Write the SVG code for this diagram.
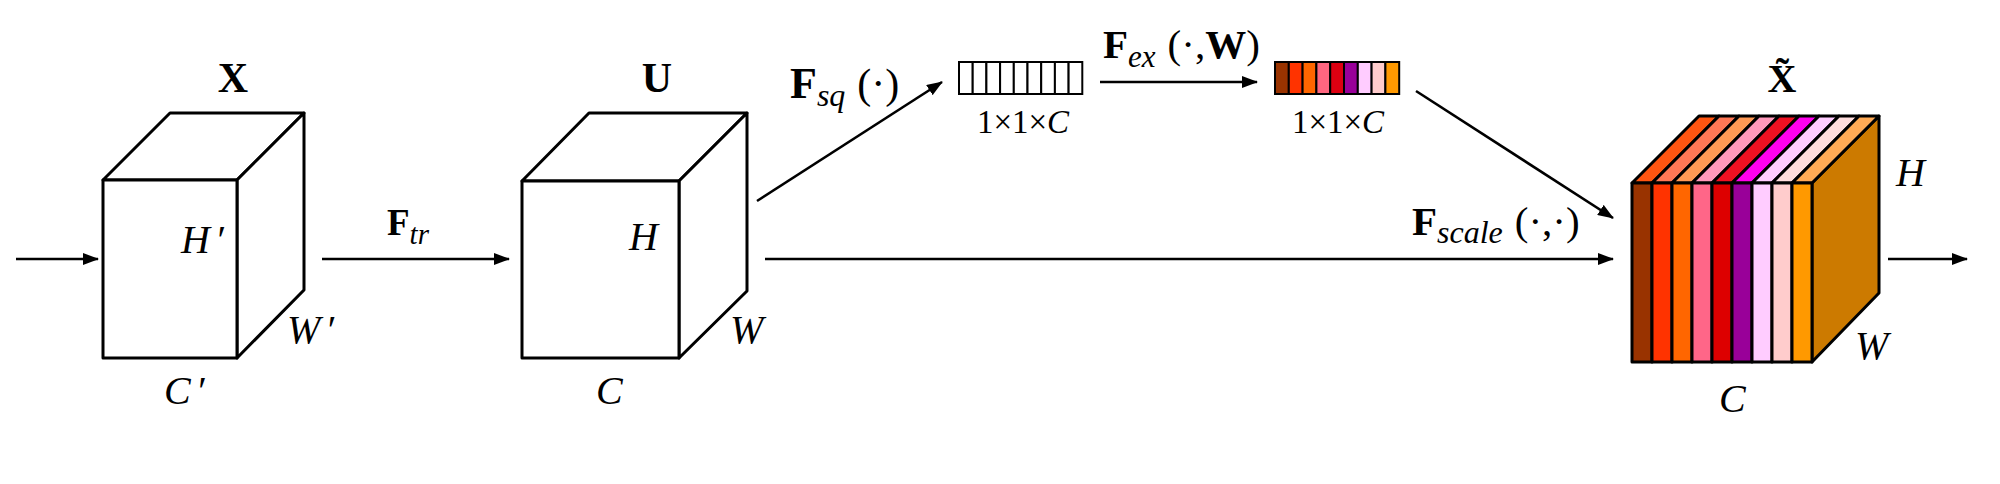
<svg xmlns="http://www.w3.org/2000/svg" width="2000" height="484" viewBox="0 0 2000 484">
<style>
.edge{fill:#fff;stroke:#000;stroke-width:3;stroke-linejoin:round}
.st{stroke:#000;stroke-width:3;stroke-linejoin:round}
.conn{fill:none;stroke:#000;stroke-width:2.6}
.t{font-family:"Liberation Serif","Times New Roman",serif;fill:#000}
.b{font-weight:bold}
.i{font-style:italic}
.cell{fill:#fff;stroke:#000;stroke-width:2}
.ccell{stroke:#000;stroke-width:2}
</style>
<defs>
<marker id="ah" markerUnits="userSpaceOnUse" markerWidth="16" markerHeight="12" refX="15" refY="6" orient="auto">
<path d="M0,0 L16,6 L0,12 z" fill="#000"/>
</marker>
</defs>
<rect width="2000" height="484" fill="#fff"/>

<g id="cube-x">
<polygon class="edge" points="103,180 170,113 304,113 237,180"/>
<polygon class="edge" points="237,180 304,113 304,290 237,358"/>
<rect class="edge" x="103" y="180" width="134" height="178"/>
<text class="t b" x="233" y="92" font-size="42" text-anchor="middle">X</text>
<text class="t i" x="181" y="253" font-size="40">H<tspan dx="5">′</tspan></text>
<text class="t i" x="287" y="343" font-size="40">W<tspan dx="5">′</tspan></text>
<text class="t i" x="164" y="404" font-size="40">C<tspan dx="5">′</tspan></text>
</g>

<g id="cube-u">
<polygon class="edge" points="522,181 589,113 747,113 679,181"/>
<polygon class="edge" points="679,181 747,113 747,291 679,358"/>
<rect class="edge" x="522" y="181" width="157" height="177"/>
<text class="t b" x="657" y="92" font-size="42" text-anchor="middle">U</text>
<text class="t i" x="629" y="250" font-size="40">H</text>
<text class="t i" x="730" y="343" font-size="40">W</text>
<text class="t i" x="596" y="404" font-size="40">C</text>
</g>

<g id="squeeze-vector">
<rect class="cell" x="959" y="62" width="13.7" height="32"/>
<rect class="cell" x="972.7" y="62" width="13.7" height="32"/>
<rect class="cell" x="986.4" y="62" width="13.7" height="32"/>
<rect class="cell" x="1000.1" y="62" width="13.7" height="32"/>
<rect class="cell" x="1013.8" y="62" width="13.7" height="32"/>
<rect class="cell" x="1027.5" y="62" width="13.7" height="32"/>
<rect class="cell" x="1041.2" y="62" width="13.7" height="32"/>
<rect class="cell" x="1054.9" y="62" width="13.7" height="32"/>
<rect class="cell" x="1068.6" y="62" width="13.7" height="32"/>
<text class="t" x="1023" y="133" font-size="33" text-anchor="middle">1×1×<tspan class="i">C</tspan></text>
</g>

<g id="excite-vector">
<rect class="ccell" x="1275" y="62" width="13.8" height="32" fill="#993300"/>
<rect class="ccell" x="1288.8" y="62" width="13.8" height="32" fill="#FF3300"/>
<rect class="ccell" x="1302.6" y="62" width="13.8" height="32" fill="#FF6600"/>
<rect class="ccell" x="1316.4" y="62" width="13.8" height="32" fill="#FF6680"/>
<rect class="ccell" x="1330.2" y="62" width="13.8" height="32" fill="#DD0011"/>
<rect class="ccell" x="1344" y="62" width="13.8" height="32" fill="#990099"/>
<rect class="ccell" x="1357.8" y="62" width="13.8" height="32" fill="#FFCCFF"/>
<rect class="ccell" x="1371.6" y="62" width="13.8" height="32" fill="#FFCCCC"/>
<rect class="ccell" x="1385.4" y="62" width="13.8" height="32" fill="#FF9900"/>
<text class="t" x="1338" y="133" font-size="33" text-anchor="middle">1×1×<tspan class="i">C</tspan></text>
</g>

<g id="cube-xtilde">
<polygon class="st" fill="#CC7A00" points="1812,183 1879,116 1879,293 1812,362"/>
<polygon class="st" fill="#FF5511" points="1632,183 1652,183 1719,116 1699,116"/>
<polygon class="st" fill="#FF7755" points="1652,183 1672,183 1739,116 1719,116"/>
<polygon class="st" fill="#FF9955" points="1672,183 1692,183 1759,116 1739,116"/>
<polygon class="st" fill="#FF99BB" points="1692,183 1712,183 1779,116 1759,116"/>
<polygon class="st" fill="#EE1122" points="1712,183 1732,183 1799,116 1779,116"/>
<polygon class="st" fill="#FF00EE" points="1732,183 1752,183 1819,116 1799,116"/>
<polygon class="st" fill="#FFCCFF" points="1752,183 1772,183 1839,116 1819,116"/>
<polygon class="st" fill="#FFDDDD" points="1772,183 1792,183 1859,116 1839,116"/>
<polygon class="st" fill="#FFAA55" points="1792,183 1812,183 1879,116 1859,116"/>
<rect class="st" x="1632" y="183" width="20" height="179" fill="#993300"/>
<rect class="st" x="1652" y="183" width="20" height="179" fill="#FF3300"/>
<rect class="st" x="1672" y="183" width="20" height="179" fill="#FF6600"/>
<rect class="st" x="1692" y="183" width="20" height="179" fill="#FF6688"/>
<rect class="st" x="1712" y="183" width="20" height="179" fill="#DD0000"/>
<rect class="st" x="1732" y="183" width="20" height="179" fill="#990099"/>
<rect class="st" x="1752" y="183" width="20" height="179" fill="#FFCCFF"/>
<rect class="st" x="1772" y="183" width="20" height="179" fill="#FFCCCC"/>
<rect class="st" x="1792" y="183" width="20" height="179" fill="#FF9900"/>
<text class="t b" x="1782" y="92" font-size="40" text-anchor="middle">X̃</text>
<text class="t i" x="1896" y="186" font-size="40">H</text>
<text class="t i" x="1855" y="359" font-size="40">W</text>
<text class="t i" x="1719" y="412" font-size="40">C</text>
</g>

<g id="connectors">
<line class="conn" x1="16" y1="259" x2="98" y2="259" marker-end="url(#ah)"/>
<line class="conn" x1="322" y1="259" x2="509" y2="259" marker-end="url(#ah)"/>
<line class="conn" x1="757" y1="201" x2="942" y2="82" marker-end="url(#ah)"/>
<line class="conn" x1="1100" y1="82" x2="1257" y2="82" marker-end="url(#ah)"/>
<line class="conn" x1="1416" y1="91" x2="1613" y2="218" marker-end="url(#ah)"/>
<line class="conn" x1="765" y1="259" x2="1613" y2="259" marker-end="url(#ah)"/>
<line class="conn" x1="1888" y1="259" x2="1967" y2="259" marker-end="url(#ah)"/>
<text class="t b" x="387" y="235" font-size="37">F<tspan class="i" font-weight="normal" font-size="29" dy="9">tr</tspan></text>
<text class="t b" x="790" y="98" font-size="44">F<tspan class="i" font-weight="normal" font-size="32" dy="8">sq</tspan><tspan font-weight="normal" font-size="42" dy="-8" dx="12">(·)</tspan></text>
<text class="t b" x="1103" y="58" font-size="41">F<tspan class="i" font-weight="normal" font-size="31" dy="9">ex</tspan><tspan font-weight="normal" dy="-9" dx="12">(·,</tspan>W<tspan font-weight="normal">)</tspan></text>
<text class="t b" x="1412" y="235" font-size="41">F<tspan class="i" font-weight="normal" font-size="32" dy="8">scale</tspan><tspan font-weight="normal" dy="-8" dx="12">(·,·)</tspan></text>
</g>
</svg>
